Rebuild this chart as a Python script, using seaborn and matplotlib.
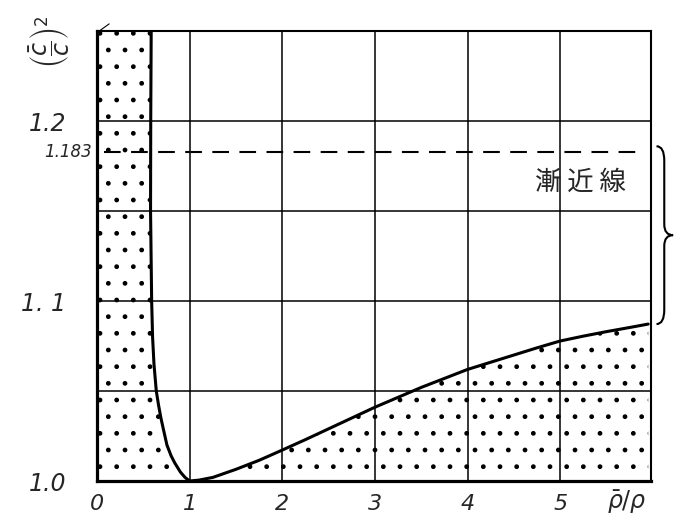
import numpy as np
import matplotlib
matplotlib.use("Agg")
import matplotlib.pyplot as plt
import seaborn as sns
from matplotlib.path import Path
from matplotlib.patches import PathPatch

# left branch of the curve (read from top to bottom)
left_x = [0.585, 0.58, 0.578, 0.59, 0.60, 0.615, 0.64, 0.665, 0.69, 0.72,
          0.755, 0.80, 0.84, 0.90, 0.95, 1.0]
left_y = [1.25, 1.2, 1.15, 1.1, 1.08, 1.065, 1.05, 1.042, 1.035, 1.028,
          1.02, 1.014, 1.01, 1.005, 1.002, 1.0]

# right branch of the curve
right_x = [1.0, 1.1, 1.25, 1.5, 1.75, 2.0, 2.25, 2.5, 2.75, 3.0, 3.25,
           3.5, 3.75, 4.0, 4.25, 4.5, 4.75, 5.0, 5.25, 5.5, 5.75, 5.95]
right_y = [1.0, 1.0005, 1.002, 1.0065, 1.0115, 1.0172, 1.023, 1.029, 1.035,
           1.041, 1.0465, 1.052, 1.057, 1.062, 1.066, 1.070, 1.074, 1.0778,
           1.0805, 1.083, 1.0853, 1.0872]

asymptote = 1.183
x_ticks = [0, 1, 2, 3, 4, 5]
y_ticks = [1.0, 1.1, 1.2]
y_ticklabels = ["1.0", "1. 1", "1.2"]
y_minor = [1.05, 1.15]

sns.set_style("white")
plt.rcParams['font.family'] = ['DejaVu Sans', 'Noto Sans CJK JP']

fig = plt.figure(figsize=(6.75, 5.16), dpi=100)
ax = fig.add_axes([0.1437, 0.0678, 0.8207, 0.872])

# stippled regions
ax.fill_betweenx(left_y, 0, left_x, facecolor='none', edgecolor='black',
                 hatch='.', linewidth=0, zorder=1)
ax.fill_between(right_x, 1.0, right_y, facecolor='none', edgecolor='black',
                hatch='.', linewidth=0, zorder=1)

curve_x = left_x + right_x[1:]
curve_y = left_y + right_y[1:]
sns.lineplot(x=curve_x, y=curve_y, sort=False, estimator=None,
             color='black', linewidth=2.2, ax=ax, zorder=4)

ax.axhline(asymptote, xmin=0.012, xmax=0.99, color='black', lw=1.5,
           linestyle=(0, (8, 5)), zorder=3)

ax.set_xlim(0, 5.98)
ax.set_ylim(1.0, 1.25)
ax.set_xticks(x_ticks)
ax.set_xticklabels([str(t) for t in x_ticks], fontsize=16, style='italic')
ax.set_yticks(y_ticks)
ax.set_yticklabels(y_ticklabels, fontsize=17, style='italic')
ax.set_yticks(y_minor, minor=True)
ax.tick_params(axis='both', which='both', length=0)
ax.tick_params(axis='x', pad=9)
ax.tick_params(axis='y', pad=22)
ax.grid(True, which='major', color='black', linewidth=1.1, zorder=2)
ax.grid(True, which='minor', axis='y', color='black', linewidth=1.1, zorder=2)
ax.set_axisbelow(True)

for side in ['left', 'bottom']:
    ax.spines[side].set_linewidth(2.3)
for side in ['top', 'right']:
    ax.spines[side].set_linewidth(1.5)
for sp in ax.spines.values():
    sp.set_color('black')

ytr = ax.get_yaxis_transform()
ax.text(-0.01, asymptote, "1.183", transform=ytr, ha='right', va='center',
        fontsize=12, style='italic')
ax.text(5.22, 1.166, "漸 近 線", ha='center', va='center', fontsize=19,
        family=['Noto Sans CJK JP', 'DejaVu Sans'])
ax.text(5.72, 0.9885, r"$\bar{\rho}/\rho$", ha='center', va='center', fontsize=17)
ax.text(-0.085, 0.975, r"$\left(\dfrac{\bar{c}}{c}\right)^2$", transform=ax.transAxes,
        rotation=90, ha='center', va='center', fontsize=17)

# brace from the asymptote down to the curve end
top, bot = 1.186, right_y[-1]
mid = (top + bot) / 2
x0, x1, x2 = 1.010, 1.024, 1.040
verts = [(x0, top), (x1, top), (x1, top - 0.008),
         (x1, mid + 0.006), (x1, mid), (x2, mid),
         (x1, mid), (x1, mid - 0.006),
         (x1, bot + 0.008), (x1, bot), (x0, bot)]
codes = [Path.MOVETO, Path.CURVE3, Path.CURVE3,
         Path.LINETO, Path.CURVE3, Path.CURVE3,
         Path.CURVE3, Path.CURVE3,
         Path.LINETO, Path.CURVE3, Path.CURVE3]
brace = PathPatch(Path(verts, codes), transform=ytr, facecolor='none',
                  edgecolor='black', lw=1.5, clip_on=False)
ax.add_patch(brace)

# small stroke at the top-left corner
ax.plot([0.004, 0.022], [1.0, 1.016], transform=ax.transAxes, color='black',
        lw=0.8, clip_on=False)

fig.savefig("out.png", dpi=100)
